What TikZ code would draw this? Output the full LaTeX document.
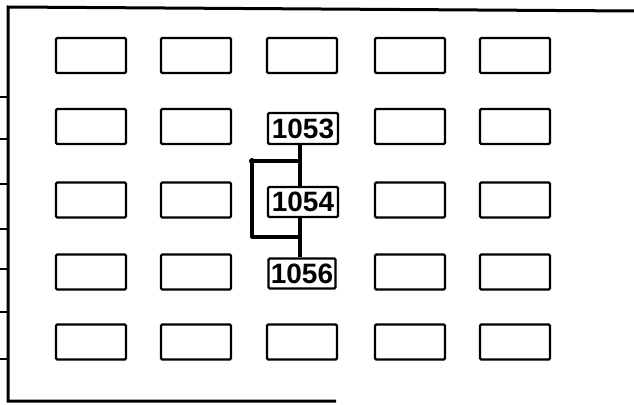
\documentclass[tikz,border=0pt]{standalone}
\usepackage{fontspec}
\setmainfont{Liberation Sans}
\begin{document}
\begin{tikzpicture}[x=1pt,y=-1pt,
  cell/.style={draw, line width=2.3pt, rounded corners=1.2pt, minimum width=70pt, minimum height=35pt, inner sep=0pt},
  lab/.style={cell, minimum height=31pt, font=\fontsize{28}{28}\selectfont\bfseries},
  wire/.style={line width=3.2pt},
  frame/.style={line width=3pt}]
\useasboundingbox (0,0) rectangle (634,404);
% frame
\coordinate (tl) at (8,7);
\coordinate (tr) at (634,11);
\coordinate (bl) at (8,401);
\coordinate (br) at (336,401);
\draw[frame] (tr) -- (tl) -- (bl) -- (br);
% ticks on the left edge
\foreach \y/\n in {97/a,139/b,184/c,229/d,269/e,312/f,359/g}{
  \coordinate (t\n) at (0,\y);
  \draw[line width=2.4pt] (t\n) -- (t\n -| tl);
}
% grid of boxes
\foreach \x/\c in {91/1,196/2,302/3,410/4,515/5}{
  \node[cell] (r1c\c) at (\x,55.5) {};
  \node[cell] (r5c\c) at (\x,342) {};
}
\foreach \x/\c in {91/1,196/2,410/4,515/5}{
  \node[cell] (r2c\c) at (\x,126.5) {};
  \node[cell] (r3c\c) at (\x,200) {};
  \node[cell] (r4c\c) at (\x,272) {};
}
\node[lab] (b1053) at (303,128.5) {1053};
\node[lab, minimum height=30pt] (b1054) at (303,202) {1054};
\node[lab, minimum height=30pt, minimum width=67pt] (b1056) at (302,273.5) {1056};
% connectors
\coordinate (j1) at (300,161);
\coordinate (j2) at (300,237);
\coordinate (c1) at (252,161);
\coordinate (c2) at (252,237);
\draw[wire] (b1053.south -| j1) -- (b1054.north -| j1);
\draw[wire] (b1054.south -| j1) -- (b1056.north -| j1);
\draw[wire, line join=round] (j1) -- (c1) -- (c2) -- (j2);
\fill (c1) circle (3pt);
\end{tikzpicture}
\end{document}
